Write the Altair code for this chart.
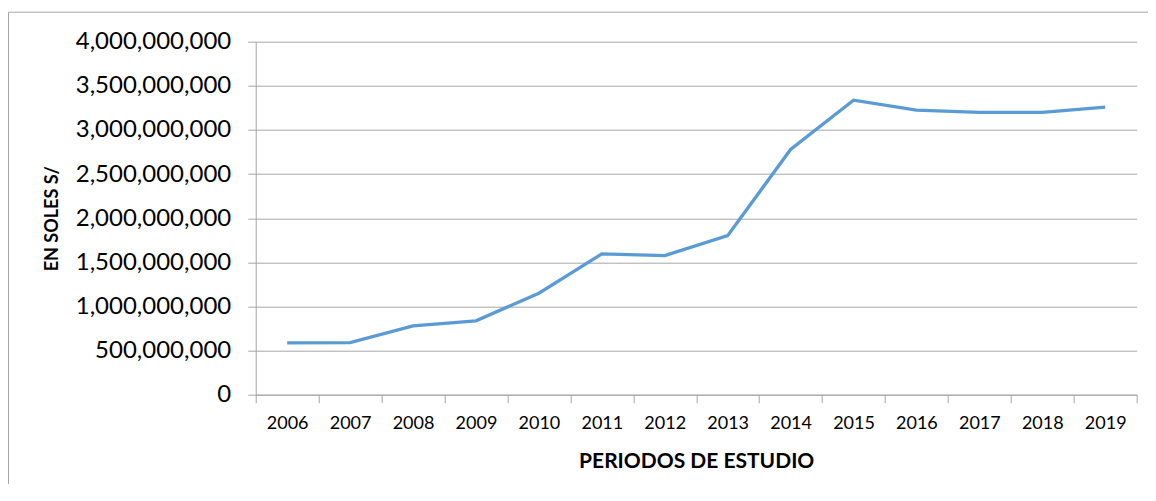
import altair as alt
import pandas as pd

# Data
years = list(range(2006, 2020))
montos = [588e6, 591e6, 780e6, 837e6, 1150e6, 1595e6, 1576e6, 1802e6,
          2779e6, 3337e6, 3224e6, 3198e6, 3198e6, 3258e6]
x_tick_values = [2005.5 + i for i in range(15)]
y_tick_values = [i * 500_000_000 for i in range(9)]

df = pd.DataFrame({"anio": years, "monto": montos})

W, H = 881, 353
HALF = W / 14 / 2
GRAY = "#a6a6a6"
FONT = "Lato"

line = alt.Chart(df).mark_line(color="#5B9BD5", strokeWidth=3.3).encode(
    x=alt.X(
        "anio:Q",
        scale=alt.Scale(domain=[2005.5, 2019.5], nice=False, zero=False),
        axis=alt.Axis(
            values=x_tick_values,
            labelExpr="datum.value < 2019 ? format(datum.value + 0.5, 'd') : ''",
            labelOffset=HALF,
            labelFlush=False,
            labelOverlap=False,
            labelFontSize=18,
            labelPadding=12,
            labelBaseline="top",
            tickSize=8,
            grid=False,
            title="PERIODOS DE ESTUDIO",
            titleFontSize=21,
            titleFontWeight="bold",
            titleY=67,
            titleBaseline="middle",
        ),
    ),
    y=alt.Y(
        "monto:Q",
        scale=alt.Scale(domain=[0, 4_000_000_000], nice=False),
        axis=alt.Axis(
            values=y_tick_values,
            format=",d",
            labelFontSize=24,
            labelPadding=17,
            tickSize=8,
            grid=True,
            title="EN SOLES S/",
            titleFontSize=18,
            titleFontWeight="bold",
            titleX=-203.7,
            titleBaseline="middle",
        ),
    ),
)

frame_data = alt.Data(values=[{"k": 1}])
frame_top = alt.Chart(frame_data).mark_rule(color=GRAY, strokeWidth=1).encode(
    x=alt.value(-247.2), x2=alt.value(950), y=alt.value(-29.5)
)
frame_left = alt.Chart(frame_data).mark_rule(color=GRAY, strokeWidth=1).encode(
    x=alt.value(-247.2), y=alt.value(-29.5), y2=alt.value(500)
)

chart = alt.layer(frame_top, frame_left, line).properties(
    width=W, height=H,
    autosize=alt.AutoSizeParams(type="none"),
    padding={"left": 247.7, "top": 33.7, "right": 11.3, "bottom": 89},
).configure_view(stroke=None).configure_axis(
    gridColor=GRAY, domainColor=GRAY, tickColor=GRAY,
    labelFont=FONT, titleFont=FONT, labelColor="#000000", titleColor="#000000",
    gridWidth=1, domainWidth=1, tickWidth=1,
)

chart.save("out.html", embed_options={"renderer": "svg", "actions": False})
